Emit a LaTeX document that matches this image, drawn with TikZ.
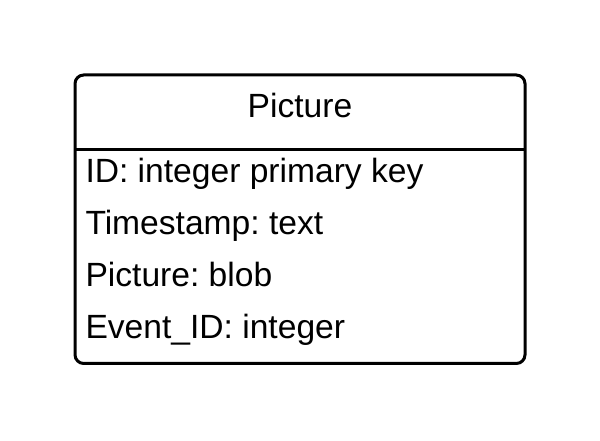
\documentclass[tikz,border=0pt]{standalone}
\usepackage{fontspec}
\setmainfont{Liberation Sans}
\frenchspacing
\tikzset{every picture/.style={line width=2.25pt}}
\tikzset{rowtext/.style={anchor=base west,inner sep=0pt,font=\fontsize{25.2}{30}\selectfont}}

\begin{document}
\begin{tikzpicture}[x=0.75pt,y=0.75pt,yscale=-1,xscale=1]
	\useasboundingbox (0,0) rectangle (600,441);
	
	%Shape: Rectangle [id:entity]
	\draw [rounded corners=6.5pt] (75,75) rectangle (525,363.5) ;
	%Straight Lines [id:header]
	\draw (75,150) -- (525,150) ;
	
	% Text Node
	\node (title) [rowtext,anchor=base] at (300,118) {Picture};
	% Text Node
	\node (rowid) [rowtext] at (84,183) {ID: integer primary key};
	% Text Node
	\node (rowtime) [rowtext] at (84,235) {Timestamp: text};
	% Text Node
	\node (rowpic) [rowtext] at (84,287) {Picture: blob};
	% Text Node
	\node (rowevent) [rowtext] at (84,339) {Event\_ID: integer};
	
\end{tikzpicture}
\end{document}
